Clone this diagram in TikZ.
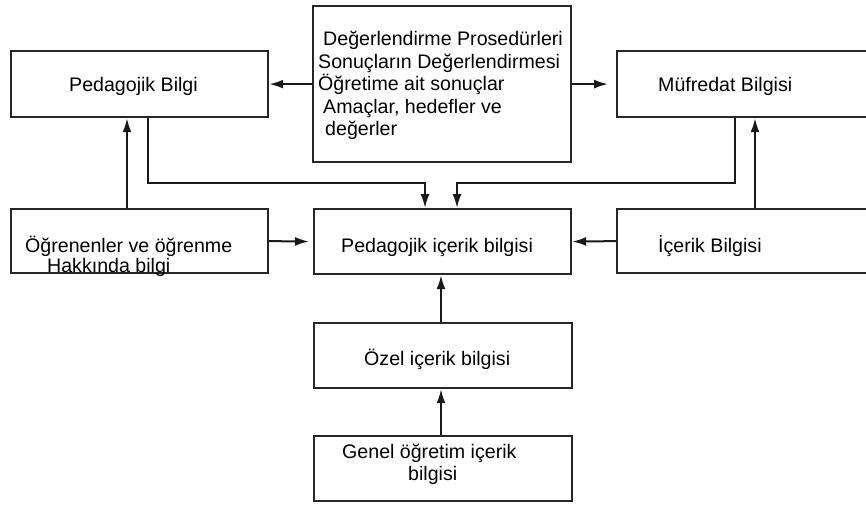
\documentclass[tikz,border=0pt]{standalone}
\usepackage{fontspec}
\setmainfont{Liberation Sans}
\usetikzlibrary{arrows.meta}

\begin{document}
\begin{tikzpicture}[x=1pt, y=-1pt,
	every node/.style={font=\fontsize{19.6}{22.5}\selectfont},
	box/.style={draw=black!85, line width=2.2pt, rectangle, anchor=north west, inner sep=0pt},
	lbl/.style={anchor=base west, inner sep=0pt},
	arr/.style={draw=black!90, line width=2pt, -{Latex[length=14pt,width=9pt]}}]
	\useasboundingbox (0,0) rectangle (866,504);
	\clip (0,0) rectangle (866,504);
	% boxes
	\node[box, minimum width=258pt, minimum height=156pt] (proc) at (312,5) {};
	\node[box, minimum width=257pt, minimum height=66pt] (pb) at (10,50) {};
	\node[box, minimum width=290pt, minimum height=66pt] (mb) at (616,50) {};
	\node[box, minimum width=257pt, minimum height=64pt] (ob) at (10,208) {};
	\node[box, minimum width=257pt, minimum height=65pt] (pck) at (313,208) {};
	\node[box, minimum width=290pt, minimum height=64pt] (ib) at (616,208) {};
	\node[box, minimum width=258pt, minimum height=65pt] (oz) at (313,322) {};
	\node[box, minimum width=258pt, minimum height=65pt] (gn) at (313,435) {};
	% texts
	\foreach \txt/\x/\y [count=\i] in {Değerlendirme Prosedürleri/323/45.5,
		Sonuçların Değerlendirmesi/318/68, Öğretime ait sonuçlar/318/90.5,
		{Amaçlar, hedefler ve}/323/113, değerler/325/135.5}
		\node[lbl] (proc-\i) at (\x,\y) {\txt};
	\node[lbl] (pb-t) at (69,91) {Pedagojik Bilgi};
	\node[lbl] (mb-t) at (658,91) {Müfredat Bilgisi};
	\node[lbl] (ob-t1) at (25,252) {Öğrenenler ve öğrenme};
	\node[lbl] (ob-t2) at (47,272) {Hakkında bilgi};
	\node[lbl] (pck-t) at (341,252) {Pedagojik içerik bilgisi};
	\node[lbl] (ib-t) at (658,252) {İçerik Bilgisi};
	\node[lbl] (oz-t) at (364,365) {Özel içerik bilgisi};
	\node[lbl] (gn-t1) at (342,458) {Genel öğretim içerik};
	\node[lbl] (gn-t2) at (408,480) {bilgisi};
	% connectors
	\draw[arr] (proc.west |- pb.east) -- (pb.east);
	\draw[arr, shorten >=8pt] (proc.east |- mb.west) -- (mb.west);
	\draw[arr] ([xshift=138pt]pb.south west) |- ([xshift=112pt,yshift=25pt]pck.north west) -- ([xshift=112pt]pck.north west);
	\draw[arr] ([xshift=119pt]mb.south west) |- ([xshift=144pt,yshift=25pt]pck.north west) -- ([xshift=144pt]pck.north west);
	\draw[arr] ([xshift=117pt]ob.north west) -- ([xshift=117pt]pb.south west);
	\draw[arr] ([xshift=139pt]ib.north west) -- ([xshift=139pt]mb.south west);
	\draw[arr, shorten >=4pt] (ob.east) -- (pck.west);
	\draw[arr] (ib.west) -- (pck.east);
	\draw[arr] ([xshift=128pt]oz.north west) -- ([xshift=128pt]pck.south west);
	\draw[arr] ([xshift=128pt]gn.north west) -- ([xshift=128pt]oz.south west);
\end{tikzpicture}
\end{document}
